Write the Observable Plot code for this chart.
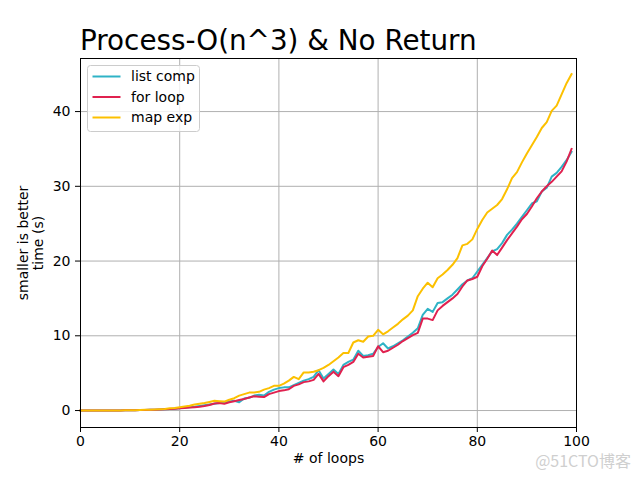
<!DOCTYPE html>
<html>
<head>
<meta charset="utf-8">
<script src="https://cdn.jsdelivr.net/npm/d3@7"></script>
<script src="https://cdn.jsdelivr.net/npm/@observablehq/plot@0.6"></script>
<style>
  body { margin: 0; background: white; }
  #wrap { position: relative; width: 640px; height: 480px; }
  #overlay { position: absolute; left: 0; top: 0; pointer-events: none; }
</style>
</head>
<body>
<div id="wrap"></div>
<script>
const title = "Process-O(n^3) & No Return";
const xLabel = "# of loops";
const yLabelLines = ["smaller is better", "time (s)"];
const seriesNames = ["list comp", "for loop", "map exp"];
const seriesColors = ["#2fb3c6", "#e0214f", "#fcc000"];
const xTicks = [0, 20, 40, 60, 80, 100];
const yTicks = [0, 10, 20, 30, 40];
const loops = d3.range(0, 100);

const listComp = [0,0,0,0,0,0,0.01,0.01,0.02,0.03,
0.04,0.05,0.06,0.08,0.1,0.12,0.14,0.17,0.2,0.25,
0.3,0.4,0.45,0.5,0.6,0.7,0.8,0.9,1.0,1.0,
1.2,1.3,1.1,1.6,1.7,2.0,2.1,2.0,2.5,2.8,
3.0,3.1,3.1,3.4,3.7,4.0,4.2,4.5,5.4,4.3,
4.9,5.5,4.9,6.1,6.5,6.8,8.0,7.3,7.4,7.6,
8.5,9.0,8.3,8.6,9.0,9.4,9.9,10.4,11.0,12.8,
13.6,13.2,14.4,14.5,15.0,15.5,16.2,16.9,17.4,17.7,
18.6,19.5,20.4,21.3,21.6,22.4,23.5,24.2,25.0,25.9,
26.8,27.7,28.0,29.3,29.8,31.3,31.8,32.6,33.5,34.6];

const forLoop = [0,0,0,0,0,0,0.01,0.01,0.02,0.03,
0.04,0.05,0.06,0.08,0.1,0.12,0.14,0.17,0.2,0.25,
0.3,0.35,0.4,0.45,0.5,0.6,0.75,0.95,1.0,0.9,
1.1,1.25,1.4,1.55,1.75,1.9,1.85,1.8,2.2,2.4,
2.6,2.7,2.85,3.3,3.5,3.8,3.9,4.1,4.9,3.9,
4.6,5.2,4.6,5.8,6.1,6.5,7.6,7.1,7.2,7.3,
8.6,7.8,8.0,8.4,8.8,9.3,9.7,10.1,10.4,12.3,
12.3,12.1,13.4,14.0,14.5,15.0,15.6,16.6,17.4,17.6,
17.9,19.3,20.3,21.4,20.8,21.8,22.8,23.7,24.6,25.6,
26.3,27.3,28.4,29.3,30.0,30.6,31.3,32.0,33.3,35.0];

const mapExp = [0,0,0,0,0,0,0.01,0.01,0.02,0.03,
0.04,0.05,0.07,0.09,0.11,0.14,0.17,0.21,0.3,0.35,
0.45,0.55,0.65,0.8,0.9,1.0,1.15,1.3,1.25,1.2,
1.45,1.65,2.0,2.2,2.4,2.4,2.5,2.8,3.0,3.3,
3.3,3.6,4.0,4.5,4.2,5.1,5.1,5.2,5.4,5.7,
6.1,6.6,7.1,7.7,7.7,9.1,9.4,9.2,9.9,10.0,
10.8,10.2,10.6,11.1,11.6,12.2,12.7,13.4,15.3,16.3,
17.1,16.5,17.7,18.2,18.8,19.5,20.4,22.1,22.3,22.9,
24.3,25.5,26.5,27.0,27.5,28.3,29.6,31.1,31.9,33.2,
34.4,35.5,36.6,37.8,38.6,40.1,40.8,42.3,43.8,45.0];

const allSeries = [listComp, forLoop, mapExp];
const rows = [];
allSeries.forEach((vals, s) => vals.forEach((v, i) => rows.push({x: loops[i], y: v, series: seriesNames[s]})));

const font = "DejaVu Sans, sans-serif";
const chart = Plot.plot({
  width: 640, height: 480,
  marginLeft: 80, marginRight: 64, marginTop: 58, marginBottom: 53,
  style: {fontFamily: font, fontSize: "14px", color: "black", background: "white", overflow: "visible"},
  x: {domain: [0, 100], label: null},
  y: {domain: [-2.27, 47.1], label: null},
  color: {domain: seriesNames, range: seriesColors},
  marks: [
    Plot.gridX(xTicks, {stroke: "#b0b0b0", strokeOpacity: 1, strokeWidth: 1}),
    Plot.gridY(yTicks, {stroke: "#b0b0b0", strokeOpacity: 1, strokeWidth: 1}),
    Plot.line(rows, {x: "x", y: "y", z: "series", stroke: "series", strokeWidth: 2, strokeLinejoin: "round", strokeLinecap: "square"}),
    Plot.frame({stroke: "black", strokeWidth: 1}),
    Plot.axisX(xTicks, {tickSize: 5, tickPadding: 4, label: null, fontSize: 14}),
    Plot.axisY(yTicks, {tickSize: 5, tickPadding: 5, label: null, fontSize: 14}),
    Plot.text([xLabel], {frameAnchor: "bottom", dy: 35, fontSize: 14, text: d => d}),
    Plot.text([yLabelLines.join("\n")], {frameAnchor: "middle", dx: -298, rotate: -90, textAnchor: "middle", fontSize: 14, lineHeight: 1.1, text: d => d})
  ]
});
document.getElementById("wrap").appendChild(chart);

// overlay: title, legend, watermark
const ov = d3.select("#wrap").append("svg")
  .attr("id", "overlay").attr("width", 640).attr("height", 480)
  .style("font-family", font);
ov.append("text").attr("x", 80).attr("y", 50).attr("font-size", 27.8).attr("fill", "black").text(title);

const lg = ov.append("g");
lg.append("rect").attr("x", 87.5).attr("y", 65.5).attr("width", 112).attr("height", 66).attr("rx", 3)
  .attr("fill", "white").attr("fill-opacity", 0.8).attr("stroke", "#cccccc");
const legendY = [76.5, 97, 117.5];
seriesNames.forEach((name, i) => {
  lg.append("line").attr("x1", 92.5).attr("x2", 120.5).attr("y1", legendY[i]).attr("y2", legendY[i])
    .attr("stroke", seriesColors[i]).attr("stroke-width", 2);
  lg.append("text").attr("x", 131).attr("y", legendY[i]).attr("dy", "0.35em").attr("font-size", 14)
    .attr("fill", "black").text(name);
});

ov.append("text").attr("x", 631).attr("y", 467).attr("text-anchor", "end")
  .attr("font-size", 16).attr("fill", "#cfcfcf")
  .style("font-family", "'Noto Sans CJK SC', 'Noto Sans', sans-serif").text("@51CTO博客");
</script>
</body>
</html>
